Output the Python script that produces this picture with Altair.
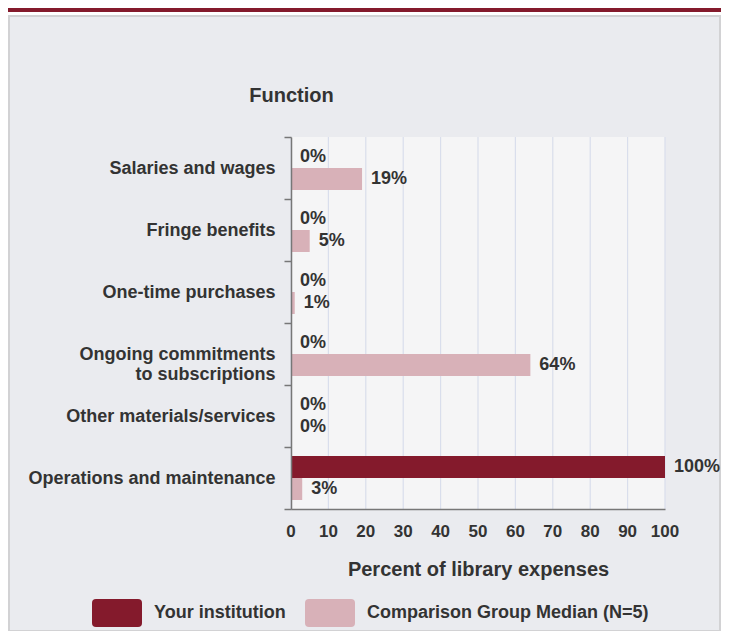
import altair as alt
import pandas as pd

functions = [
    "Salaries and wages",
    "Fringe benefits",
    "One-time purchases",
    "Ongoing commitments to subscriptions",
    "Other materials/services",
    "Operations and maintenance",
]
series = ["Your institution", "Comparison Group Median (N=5)"]
institution = [0, 0, 0, 0, 0, 100]
comparison = [19, 5, 1, 64, 0, 3]
x_ticks = list(range(0, 101, 10))

DARK = "#841A2C"
PINK = "#D8B1B8"
TEXT = "#333333"
FONT = "Liberation Sans"

rows = []
for f, a, b in zip(functions, institution, comparison):
    rows.append({"function": f, "series": series[0], "value": a, "label": f"{a}%"})
    rows.append({"function": f, "series": series[1], "value": b, "label": f"{b}%"})
df = pd.DataFrame(rows)
grid_df = pd.DataFrame({"value": x_ticks, "tick_label": [str(t) for t in x_ticks]})

W, H = 374, 372
PL, PT = 283, 129
PR = 713 - PL - W
PB = 623 - PT - H

xscale = alt.Scale(domain=[0, 100], nice=False, zero=True)
yscale = alt.Scale(domain=functions, paddingInner=0, paddingOuter=0)
yoff_scale = alt.Scale(domain=series, paddingOuter=0.41, paddingInner=0)

label_expr = (
    "datum.label == 'Ongoing commitments to subscriptions' ? "
    "['Ongoing commitments', 'to subscriptions'] : datum.label"
)

x_axis = alt.Axis(
    values=x_ticks,
    grid=False,
    ticks=False,
    labels=False,
    domainColor="#777777",
    domainWidth=1.5,
    titleFont=FONT,
    titleFontSize=20,
    titleFontWeight="bold",
    titleColor=TEXT,
    titlePadding=50,
    zindex=2,
)
y_axis = alt.Axis(
    grid=False,
    tickBand="extent",
    tickSize=7,
    tickColor="#777777",
    tickWidth=1.5,
    domainColor="#777777",
    domainWidth=1.5,
    labelFont=FONT,
    labelFontSize=18,
    labelFontWeight="bold",
    labelColor=TEXT,
    labelPadding=9,
    labelLimit=320,
    labelLineHeight=20,
    labelExpr=label_expr,
    titleFont=FONT,
    titleFontSize=20,
    titleFontWeight="bold",
    titleColor=TEXT,
    titleAngle=0,
    titleAlign="center",
    titleBaseline="middle",
    titleX=0,
    titleY=-42,
    zindex=2,
)
X_TITLE = "Percent of library expenses"
Y_TITLE = "Function"

def xenc():
    return alt.X("value:Q", scale=xscale, title=X_TITLE, axis=x_axis)

def yenc():
    return alt.Y("function:N", sort=functions, scale=yscale, title=Y_TITLE, axis=y_axis)

yoff_enc = alt.YOffset("series:N", sort=series, scale=yoff_scale)

rounded = (
    "M-0.84,-0.56 L0.84,-0.56 Q1,-0.56 1,-0.4 L1,0.4 Q1,0.56 0.84,0.56 "
    "L-0.84,0.56 Q-1,0.56 -1,0.4 L-1,-0.4 Q-1,-0.56 -0.84,-0.56 Z"
)

color_enc = alt.Color(
    "series:N",
    sort=series,
    scale=alt.Scale(domain=series, range=[DARK, PINK]),
    legend=alt.Legend(
        title=None,
        orient="none",
        direction="horizontal",
        legendX=92 - 8 - PL,
        legendY=451,
        symbolType=rounded,
        symbolSize=2500,
        symbolStrokeWidth=0,
        symbolOpacity=1,
        labelFont=FONT,
        labelFontSize=18,
        labelFontWeight="bold",
        labelColor=TEXT,
        labelOffset=12,
        labelLimit=400,
        columnPadding=19,
        padding=0,
    ),
)

one = alt.Data(values=[{"k": 1}])

panel = alt.Chart(one).mark_rect(
    fill="#EAEBEF", stroke="#D2D2D4", strokeWidth=2
).encode(
    x=alt.value(1 - PL), x2=alt.value(W + PR - 1),
    y=alt.value(-121), y2=alt.value(494),
)
top_rule = alt.Chart(one).mark_rect(fill=DARK).encode(
    x=alt.value(-PL), x2=alt.value(W + PR), y=alt.value(-129), y2=alt.value(-125)
)
plot_bg = alt.Chart(one).mark_rect(fill="#F5F5F6").encode(
    x=alt.value(0), x2=alt.value(W), y=alt.value(0), y2=alt.value(H)
)

grid = alt.Chart(grid_df).mark_rule(color="#D9DEEC", strokeWidth=1.2).encode(
    x=xenc(),
    y=alt.value(0),
    y2=alt.value(H),
)
tick_labels = alt.Chart(grid_df).mark_text(
    align="center", baseline="middle", font=FONT, fontSize=17,
    fontWeight="bold", color=TEXT
).encode(
    x=xenc(),
    y=alt.value(H + 23),
    text="tick_label:N",
)
bars = alt.Chart(df).mark_bar(opacity=1).encode(
    x=xenc(), y=yenc(), yOffset=yoff_enc, color=color_enc
)
labels = alt.Chart(df).mark_text(
    align="left", baseline="middle", dx=9, font=FONT, fontSize=18,
    fontWeight="bold", color=TEXT
).encode(
    x=xenc(),
    y=yenc(),
    yOffset=yoff_enc,
    text="label:N",
)

chart = alt.layer(panel, top_rule, plot_bg, grid, tick_labels, bars, labels).properties(
    width=W,
    height=H,
    autosize=alt.AutoSizeParams(type="none"),
    padding={"left": PL, "top": PT, "right": PR, "bottom": PB},
    background="white",
).configure_view(stroke=None, fill=None)

chart.save("out.html", embed_options={"renderer": "svg", "actions": False})
